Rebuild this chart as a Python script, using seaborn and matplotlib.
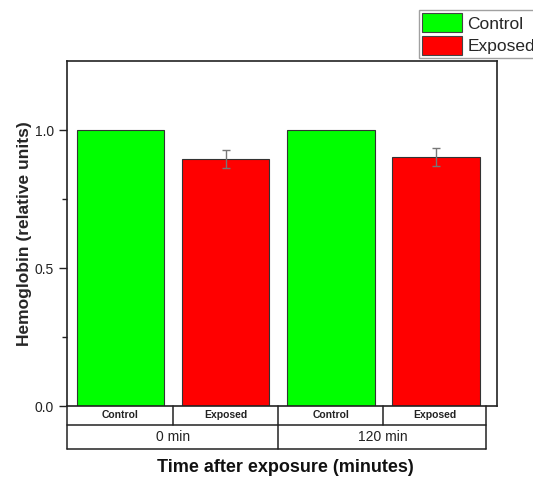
import matplotlib
matplotlib.use("Agg")
import matplotlib.pyplot as plt
from matplotlib.patches import Patch
from matplotlib.lines import Line2D
import seaborn as sns
import pandas as pd

# Hemoglobin levels per group and time point
times = ["0 min", "0 min", "120 min", "120 min"]
groups = ["Control", "Exposed", "Control", "Exposed"]
values = [1.0, 0.895, 1.0, 0.903]
errors = [0.0, 0.033, 0.0, 0.032]
time_labels = ["0 min", "120 min"]
colors = {"Control": "#00ff00", "Exposed": "#ff0000"}

sns.set_theme(style="white")
plt.rcParams["font.family"] = ["Liberation Sans", "DejaVu Sans"]

df = pd.DataFrame({"time": times, "group": groups, "value": values, "err": errors})
df["key"] = df["time"] + " " + df["group"]

fig = plt.figure(figsize=(5.33, 4.78), dpi=100)
ax = fig.add_axes([67 / 533, 1 - 406 / 478, 430 / 533, 345 / 478])

sns.barplot(data=df, x="key", y="value", hue="group", palette=colors,
            dodge=False, width=0.83, saturation=1, edgecolor="#333333",
            linewidth=0.8, legend=False, errorbar=None, ax=ax)

xpos = range(len(df))
ax.errorbar(list(xpos), df["value"], yerr=df["err"].where(df["err"] > 0),
            fmt="none", ecolor="#777777", elinewidth=1, capsize=3, capthick=1)

ax.set_xlim(-0.51, 3.58)
ax.set_ylim(0, 1.25)
ax.set_yticks([0.0, 0.5, 1.0])
ax.set_yticks([0.25, 0.75], minor=True)
ax.set_yticklabels(["0.0", "0.5", "1.0"])
ax.tick_params(axis="y", which="major", direction="out", length=6, width=1,
               labelsize=10, left=True, color="#222222", labelcolor="#222222")
ax.tick_params(axis="y", which="minor", direction="out", length=3.5, width=1,
               left=True, color="#222222")
ax.set_xticks([])
ax.set_xlabel("")
ax.set_ylabel("Hemoglobin (relative units)", fontsize=12.5, fontweight="bold",
              va="center")
ax.yaxis.set_label_coords(-42 / 430, 0.5)
for s in ax.spines.values():
    s.set_color("#222222")
    s.set_linewidth(1.2)

# Two-row category table beneath the axes
trans = ax.get_xaxis_transform()
row1, row2 = -19 / 345, -43 / 345
xl, xr = -0.51, 3.48
edges = [xl, 0.5, 1.5, 2.5, xr]
line_kw = dict(color="#222222", lw=1.1, transform=trans, clip_on=False)
for y in (row1, row2):
    ax.add_line(Line2D([xl, xr], [y, y], **line_kw))
for x in (xl, xr, 1.5):
    ax.add_line(Line2D([x, x], [0, row2], **line_kw))
for x in (0.5, 2.5):
    ax.add_line(Line2D([x, x], [0, row1], **line_kw))
for i, g in enumerate(groups):
    cx = (edges[i] + edges[i + 1]) / 2
    ax.text(cx, row1 / 2, g, transform=trans, ha="center", va="center",
            fontsize=7.5, fontweight="bold", color="#222222")
for j, t in enumerate(time_labels):
    cx = (edges[2 * j] + edges[2 * j + 2]) / 2
    ax.text(cx, (row1 + row2) / 2, t, transform=trans, ha="center",
            va="center", fontsize=10, color="#222222")

fig.text(285 / 533, 1 - 467 / 478, "Time after exposure (minutes)",
         ha="center", va="center", fontsize=13, fontweight="bold",
         color="#111111")

handles = [Patch(facecolor=colors[g], edgecolor="#444444", linewidth=0.8)
           for g in ["Control", "Exposed"]]
leg = fig.legend(handles, ["Control", "Exposed"], loc="upper left",
                 bbox_to_anchor=(419 / 533, 1 - 10 / 478), fontsize=12.5,
                 frameon=True, fancybox=False, edgecolor="#888888",
                 handlelength=2.3, handleheight=1.3, handletextpad=0.3,
                 labelspacing=0.2, borderpad=0.2, borderaxespad=0)
leg.get_frame().set_linewidth(1)

fig.savefig("out.png", dpi=100)
